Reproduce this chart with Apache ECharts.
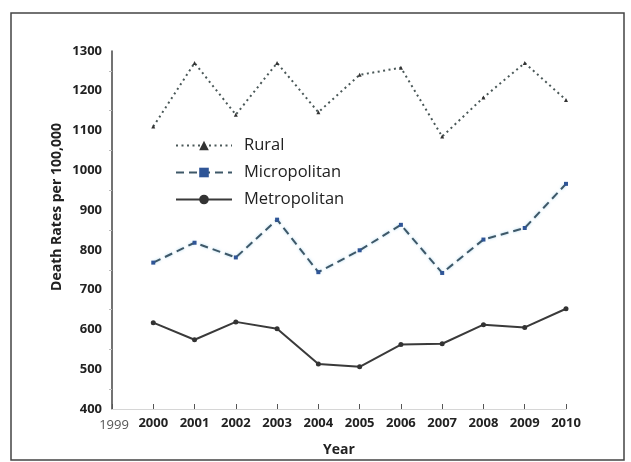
<!DOCTYPE html>
<html>
<head>
<meta charset="utf-8">
<script src="https://cdn.jsdelivr.net/npm/echarts@6/dist/echarts.min.js"></script>
<style>html,body{margin:0;padding:0;background:#fff;}#c{width:631px;height:462px;}</style>
</head>
<body>
<div id="c"></div>
<script>
const years = [2000, 2001, 2002, 2003, 2004, 2005, 2006, 2007, 2008, 2009, 2010];
const rural = [1110, 1270, 1140, 1270, 1146, 1240, 1258, 1085, 1183, 1270, 1177];
const micropolitan = [768, 818, 781, 876, 744, 799, 863, 742, 826, 855, 966];
const metropolitan = [617, 574, 619, 602, 513, 506, 562, 564, 612, 605, 652];
const yTicks = [400, 500, 600, 700, 800, 900, 1000, 1100, 1200, 1300];

const pair = (arr) => years.map((y, i) => [y, arr[i]]);
const FONT = 'Open Sans';

const chart = echarts.init(document.getElementById('c'), null, {renderer: 'canvas'});
chart.setOption({
  backgroundColor: '#fff',
  animation: false,
  grid: {left: 112, right: 65, top: 51, bottom: 47},
  legend: {
    orient: 'vertical', left: 175, top: 137, padding: 0,
    itemWidth: 56, itemHeight: 12, itemGap: 10,
    textStyle: {fontFamily: FONT, fontSize: 16.5, color: '#222', padding: [0, 0, 0, 7]},
    data: ['Rural', 'Micropolitan', 'Metropolitan']
  },
  xAxis: {
    type: 'value', min: 1999, max: 2010, interval: 1,
    name: 'Year', nameLocation: 'middle', nameGap: 34,
    nameTextStyle: {fontFamily: FONT, fontSize: 14, fontWeight: 'bold', color: '#222'},
    axisLine: {lineStyle: {color: '#d6d6d6', width: 1}},
    axisTick: {show: true, inside: true, length: 5, lineStyle: {color: '#555'}},
    axisLabel: {
      fontFamily: FONT, fontSize: 13, fontWeight: 'bold', color: '#222', margin: 8,
      formatter: v => v === 1999 ? '{a|' + v + '}' : String(v),
      rich: {a: {fontFamily: FONT, fontSize: 13, fontWeight: 'normal', color: '#555', padding: [2, 0, 0, 4]}}
    },
    splitLine: {show: false}
  },
  yAxis: {
    type: 'value', min: yTicks[0], max: yTicks[yTicks.length - 1], interval: 100,
    axisLine: {show: true, lineStyle: {color: '#444', width: 1.5}},
    axisTick: {show: false},
    minorTick: {show: true, splitNumber: 2, length: 3, lineStyle: {color: '#bbb'}},
    axisLabel: {fontFamily: FONT, fontSize: 13, fontWeight: 'bold', color: '#222', margin: 10, formatter: v => String(v)},
    splitLine: {show: false}
  },
  graphic: [
    {type: 'rect', shape: {x: 11, y: 13, width: 613, height: 447}, style: {fill: 'none', stroke: '#444', lineWidth: 1.5}, silent: true},
    {type: 'text', x: 57, y: 207, rotation: Math.PI / 2, style: {text: 'Death Rates per 100,000', fontFamily: FONT, fontSize: 14, fontWeight: 'bold', fill: '#222', align: 'center', verticalAlign: 'middle'}}
  ],
  series: [
    {
      name: 'Rural', type: 'line', data: pair(rural),
      symbol: 'triangle', symbolSize: 4,
      lineStyle: {type: [2, 3.5], width: 2, color: '#4a5858'},
      itemStyle: {color: '#333'}
    },
    {
      name: 'Micropolitan', type: 'line', data: pair(micropolitan),
      symbol: 'rect', symbolSize: 4,
      lineStyle: {type: [8, 5], width: 2, color: '#3e5868', shadowColor: 'rgba(120,190,230,0.6)', shadowBlur: 3},
      itemStyle: {color: '#2f5597'}
    },
    {
      name: 'Metropolitan', type: 'line', data: pair(metropolitan),
      symbol: 'circle', symbolSize: 5,
      lineStyle: {type: 'solid', width: 2, color: '#3a3a3a'},
      itemStyle: {color: '#333'}
    }
  ]
});
</script>
</body>
</html>
